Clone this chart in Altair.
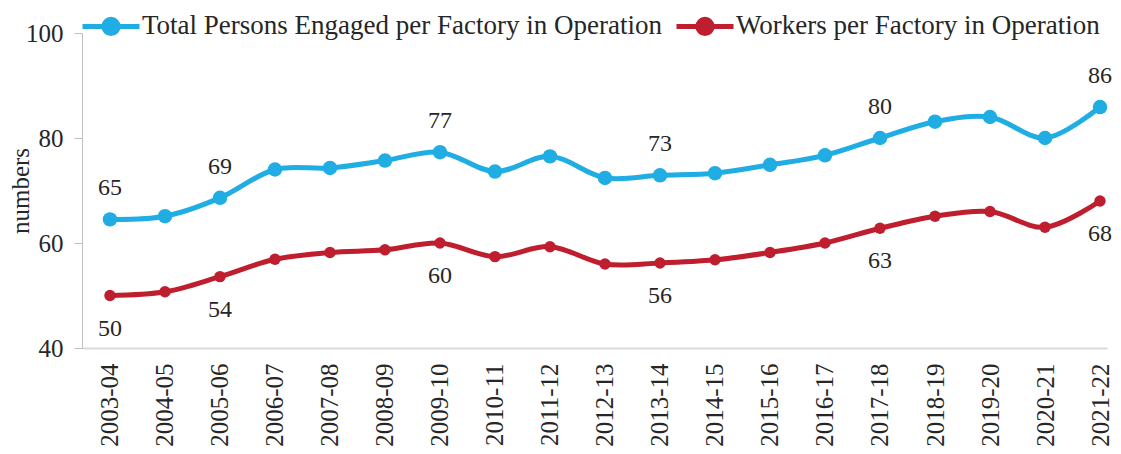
import altair as alt
import pandas as pd

periods = ["2003-04", "2004-05", "2005-06", "2006-07", "2007-08", "2008-09",
           "2009-10", "2010-11", "2011-12", "2012-13", "2013-14", "2014-15",
           "2015-16", "2016-17", "2017-18", "2018-19", "2019-20", "2020-21",
           "2021-22"]
series_names = ["Total Persons Engaged per Factory in Operation",
                "Workers per Factory in Operation"]
total_vals = [64.5, 65.1, 68.6, 74.0, 74.3, 75.7, 77.3, 73.6, 76.5, 72.4,
              72.9, 73.3, 74.9, 76.7, 80.0, 83.1, 84.0, 80.0, 85.9]
worker_vals = [50.0, 50.7, 53.6, 56.9, 58.2, 58.7, 60.0, 57.4, 59.3, 56.0,
               56.2, 56.8, 58.2, 60.0, 62.8, 65.1, 66.0, 63.0, 68.0]
label_periods = ["2003-04", "2005-06", "2009-10", "2013-14", "2017-18", "2021-22"]
total_labels = ["65", "69", "77", "73", "80", "86"]
worker_labels = ["50", "54", "60", "56", "63", "68"]
colors = ["#1fade4", "#be1e2d"]

rows = []
for p, t, w in zip(periods, total_vals, worker_vals):
    rows.append({"period": p, "series": series_names[0], "value": t})
    rows.append({"period": p, "series": series_names[1], "value": w})
df = pd.DataFrame(rows)

lab_rows = []
for p, tl, wl in zip(label_periods, total_labels, worker_labels):
    i = periods.index(p)
    lab_rows.append({"period": p, "series": series_names[0], "value": total_vals[i], "label": tl})
    lab_rows.append({"period": p, "series": series_names[1], "value": worker_vals[i], "label": wl})
lab_df = pd.DataFrame(lab_rows)

FONT = "Liberation Serif"
TXT = "#262626"

x_enc = alt.X("period:N", sort=periods,
              scale=alt.Scale(type="point", padding=0.318, align=0.8),
              axis=alt.Axis(title=None, labelAngle=270, labelFontSize=25,
                            labelFont=FONT, labelColor=TXT, labelPadding=15,
                            ticks=False, tickSize=0, domainColor="#d9d9d9",
                            domainWidth=2, grid=False))
y_enc = alt.Y("value:Q", scale=alt.Scale(domain=[40, 100], nice=False),
              axis=alt.Axis(title="numbers", values=[40, 60, 80, 100],
                            titleFont=FONT, titleFontSize=25,
                            titleFontWeight="normal", titleColor=TXT,
                            titlePadding=-8, labelFont=FONT, labelFontSize=25,
                            labelColor=TXT, labelPadding=11, tickSize=8,
                            tickColor="#bfbfbf", domainColor="#bfbfbf",
                            grid=False))

sym_path = ("M-1,0L1,0M-0.25,0A0.25,0.25,0,1,1,0.25,0"
            "A0.25,0.25,0,1,1,-0.25,0Z")

color_enc = alt.Color("series:N", sort=series_names,
                      scale=alt.Scale(domain=series_names, range=colors),
                      legend=alt.Legend(title=None, orient="none",
                                        legendX=-2, legendY=-38,
                                        direction="horizontal",
                                        symbolType=sym_path, symbolSize=3249,
                                        symbolStrokeWidth=5,
                                        labelFont=FONT, labelFontSize=27,
                                        labelColor=TXT, labelLimit=800,
                                        labelOffset=0, columnPadding=4,
                                        padding=0))

base = alt.Chart(df).encode(x=x_enc, y=y_enc, color=color_enc)

lines = base.mark_line(interpolate="catmull-rom", strokeWidth=5)
points_top = base.transform_filter(
    alt.datum.series == series_names[0]).mark_circle(opacity=1, size=210)
points_bot = base.transform_filter(
    alt.datum.series == series_names[1]).mark_circle(opacity=1, size=130)

text_top = alt.Chart(lab_df).transform_filter(
    alt.datum.series == series_names[0]
).mark_text(dy=-31, font=FONT, fontSize=24, color=TXT).encode(
    x=alt.X("period:N", sort=periods), y="value:Q", text="label:N")
text_bot = alt.Chart(lab_df).transform_filter(
    alt.datum.series == series_names[1]
).mark_text(dy=33, font=FONT, fontSize=24, color=TXT).encode(
    x=alt.X("period:N", sort=periods), y="value:Q", text="label:N")

chart = alt.layer(lines, points_top, points_bot, text_top, text_bot).properties(
    width=1025, height=315,
    autosize=alt.AutoSizeParams(type="none"),
    padding={"left": 74, "top": 25, "right": 6, "bottom": 98},
).configure(font=FONT).configure_view(stroke=None)

chart.save("out.html", embed_options={"renderer": "svg", "actions": False})
